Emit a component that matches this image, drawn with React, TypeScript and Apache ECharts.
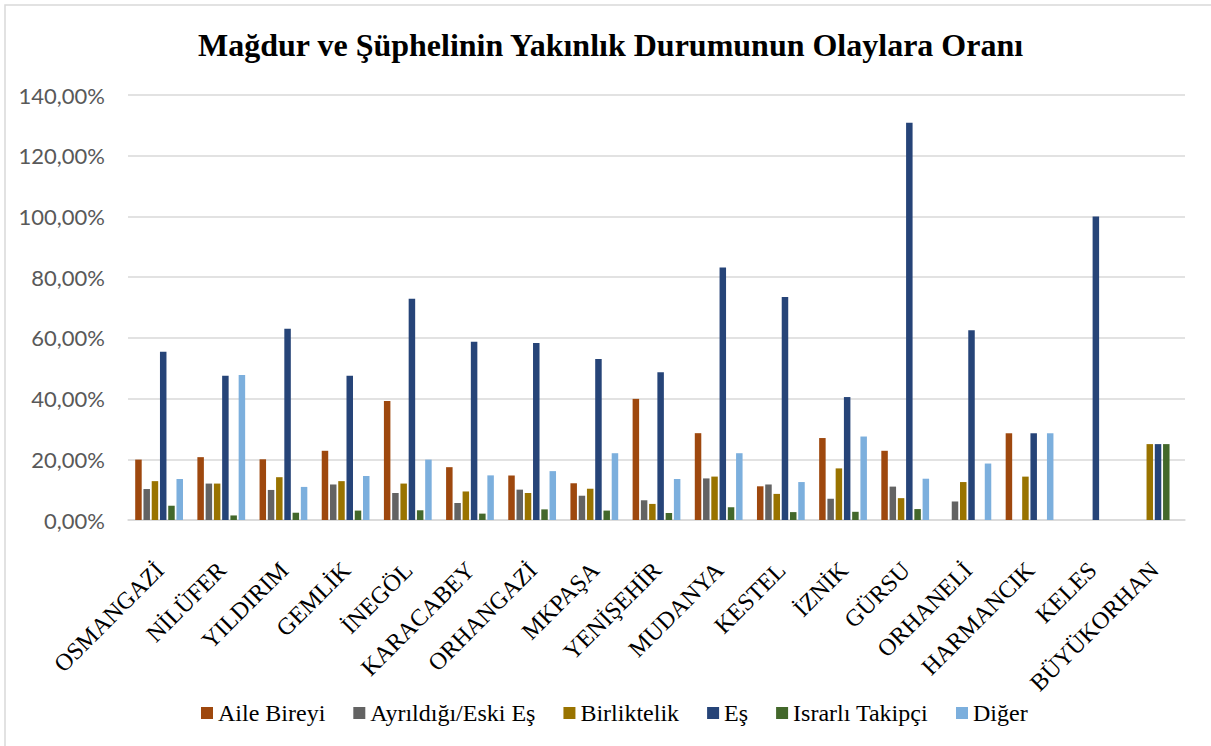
import React, { useEffect, useRef } from "react";
import * as echarts from "echarts";

const categories = [
  "OSMANGAZİ", "NİLÜFER", "YILDIRIM", "GEMLİK", "İNEGÖL", "KARACABEY", "ORHANGAZİ", "MKPAŞA",
  "YENİŞEHİR", "MUDANYA", "KESTEL", "İZNİK", "GÜRSU", "ORHANELİ", "HARMANCIK", "KELES", "BÜYÜKORHAN",
];

const seriesNames = ["Aile Bireyi", "Ayrıldığı/Eski Eş", "Birliktelik", "Eş", "Israrlı Takipçi", "Diğer"];
const seriesColors = ["#9E480E", "#636363", "#997300", "#264478", "#43682B", "#7CAFDD"];

const aileBireyi = [19.9, 20.7, 20.0, 22.8, 39.2, 17.4, 14.7, 12.1, 39.9, 28.6, 11.1, 27.0, 22.8, 0, 28.57, 0, 0];
const ayrildigi = [10.2, 12.0, 9.9, 11.7, 8.9, 5.6, 10.0, 8.0, 6.5, 13.7, 11.7, 7.0, 11.0, 6.1, 0, 0, 0];
const birliktelik = [12.8, 12.0, 14.1, 12.8, 12.0, 9.4, 8.9, 10.3, 5.3, 14.3, 8.6, 17.0, 7.2, 12.5, 14.29, 0, 25];
const es = [55.4, 47.5, 63.0, 47.5, 72.9, 58.7, 58.3, 53.0, 48.7, 83.2, 73.5, 40.5, 130.9, 62.5, 28.57, 100, 25];
const israrli = [4.7, 1.5, 2.4, 3.1, 3.2, 2.1, 3.5, 3.1, 2.3, 4.2, 2.6, 2.7, 3.6, 0, 0, 0, 25];
const diger = [13.5, 47.8, 10.9, 14.5, 19.9, 14.7, 16.1, 22.0, 13.5, 22.0, 12.5, 27.5, 13.6, 18.6, 28.57, 0, 0];

const seriesValues = [aileBireyi, ayrildigi, birliktelik, es, israrli, diger];

const yMin = 0;
const yMax = 140;
const yInterval = 20;

const serif = "'Liberation Serif', 'Times New Roman', serif";

export default function App() {
  const ref = useRef<HTMLDivElement>(null);
  useEffect(() => {
    if (!ref.current) return;
    const chart = echarts.init(ref.current, null, { renderer: "svg" });
    chart.setOption({
      animation: false,
      backgroundColor: "#ffffff",
      textStyle: { fontFamily: serif },
      title: {
        text: "Mağdur ve Şüphelinin Yakınlık Durumunun Olaylara Oranı",
        left: 193,
        top: 24,
        textStyle: {
          fontFamily: serif,
          fontWeight: "bold",
          fontSize: 32,
          color: "#000000",
        },
      },
      graphic: [
        {
          type: "rect",
          shape: { x: 5, y: 5, width: 1230, height: 770 },
          style: { fill: "none", stroke: "#d9d9d9", lineWidth: 1.5 },
          silent: true,
        },
      ],
      legend: {
        data: seriesNames,
        left: 196,
        top: 696,
        itemWidth: 12,
        itemHeight: 12,
        itemGap: 28,
        icon: "rect",
        textStyle: { fontFamily: serif, fontSize: 24, color: "#000000" },
      },
      grid: { left: 128, right: 26, top: 95, bottom: 226, containLabel: false },
      xAxis: {
        type: "category",
        data: categories,
        axisTick: { show: false },
        axisLine: { lineStyle: { color: "#d9d9d9", width: 1.5 } },
        axisLabel: {
          interval: 0,
          rotate: 45,
          margin: 20,
          verticalAlign: "top",
          padding: [7, 18, 0, 0],
          fontFamily: serif,
          fontSize: 24,
          color: "#000000",
        },
      },
      yAxis: {
        type: "value",
        min: yMin,
        max: yMax,
        interval: yInterval,
        axisLine: { show: false },
        axisTick: { show: false },
        splitLine: { lineStyle: { color: "#d9d9d9", width: 1.5 } },
        axisLabel: {
          margin: 23,
          fontFamily: "Lato",
          fontSize: 22,
          color: "#595959",
          formatter: (v: number) => v.toFixed(2).replace(".", ",") + "%",
        },
      },
      series: seriesNames.map((name, i) => ({
        name,
        type: "bar",
        data: seriesValues[i],
        barWidth: 6.5,
        barGap: "27%",
        itemStyle: { color: seriesColors[i] },
      })),
    });
    return () => chart.dispose();
  }, []);
  return (
    <div
      ref={ref}
      style={{ position: "absolute", left: 0, top: 0, width: 1211, height: 746 }}
    />
  );
}
